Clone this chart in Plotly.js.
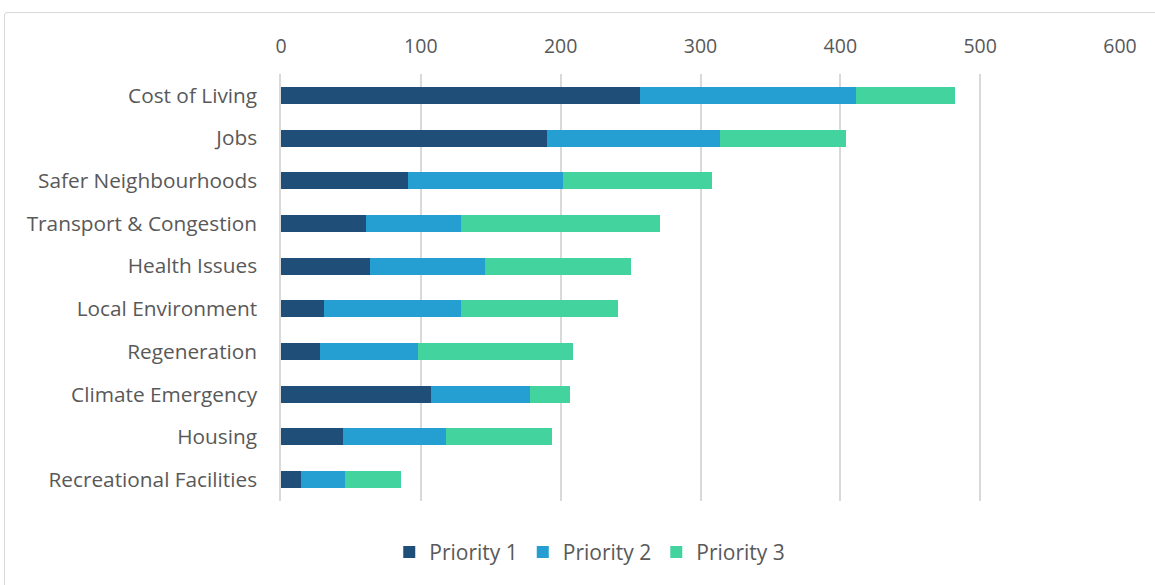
<!DOCTYPE html>
<html>
<head>
<meta charset="utf-8">
<script src="https://cdn.plot.ly/plotly-3.0.1.min.js"></script>
<style>
  html, body { margin: 0; padding: 0; background: #ffffff; overflow: hidden; }
  #frame { position: absolute; left: 4px; top: 12px; width: 1170px; height: 600px;
           border: 1px solid #d9d9d9; border-radius: 3px; box-sizing: border-box; }
  #chart { position: absolute; left: 0; top: 0; width: 1155px; height: 585px; }
</style>
</head>
<body>
<div id="frame"></div>
<div id="chart"></div>
<script>
// Issues ranked by combined priority votes
const categories = [
  "Cost of Living", "Jobs", "Safer Neighbourhoods", "Transport & Congestion",
  "Health Issues", "Local Environment", "Regeneration", "Climate Emergency",
  "Housing", "Recreational Facilities"
];
const priority1 = [257, 190, 91, 61, 64, 31, 28, 107, 44, 14];
const priority2 = [154, 124, 111, 68, 82, 98, 70, 71, 74, 32];
const priority3 = [71, 90, 106, 142, 104, 112, 111, 29, 76, 40];
const seriesNames = ["Priority 1", "Priority 2", "Priority 3"];
const seriesColors = ["#1f4e79", "#259fd2", "#43d39e"];
const tickValues = [0, 100, 200, 300, 400, 500, 600];

const font = "Open Sans, Liberation Sans, sans-serif";

const traces = [priority1, priority2, priority3].map((vals, i) => ({
  type: "bar",
  orientation: "h",
  name: seriesNames[i],
  y: categories,
  x: vals,
  marker: { color: seriesColors[i], line: { width: 0 } },
  hoverinfo: "x+y+name"
}));

const layout = {
  width: 1155,
  height: 585,
  barmode: "stack",
  bargap: 0.6,
  paper_bgcolor: "rgba(0,0,0,0)",
  plot_bgcolor: "rgba(0,0,0,0)",
  margin: { l: 281, r: 35, t: 74, b: 82 },
  font: { family: font, color: "#595959", size: 20 },
  xaxis: {
    side: "top",
    range: [0, 600],
    tickvals: tickValues,
    ticktext: tickValues.map(String),
    showgrid: true,
    gridcolor: "#d9d9d9",
    gridwidth: 1.5,
    zeroline: false,
    showline: false,
    ticks: "",
    ticklabelstandoff: 16,
    tickfont: { family: font, size: 19.5, color: "#595959" },
    fixedrange: true
  },
  yaxis: {
    type: "category",
    autorange: "reversed",
    showgrid: false,
    zeroline: false,
    showline: true,
    linecolor: "#d9d9d9",
    linewidth: 1.5,
    ticks: "",
    ticklabelstandoff: 18,
    tickfont: { family: font, size: 20.8, color: "#595959" },
    fixedrange: true
  },
  legend: {
    orientation: "h",
    x: 0.368,
    xanchor: "center",
    y: -0.12,
    yanchor: "middle",
    font: { family: font, size: 21, color: "#595959" },
    traceorder: "normal",
    itemwidth: 30
  },
  showlegend: true
};

Plotly.newPlot("chart", traces, layout, { displayModeBar: false });
</script>
</body>
</html>
